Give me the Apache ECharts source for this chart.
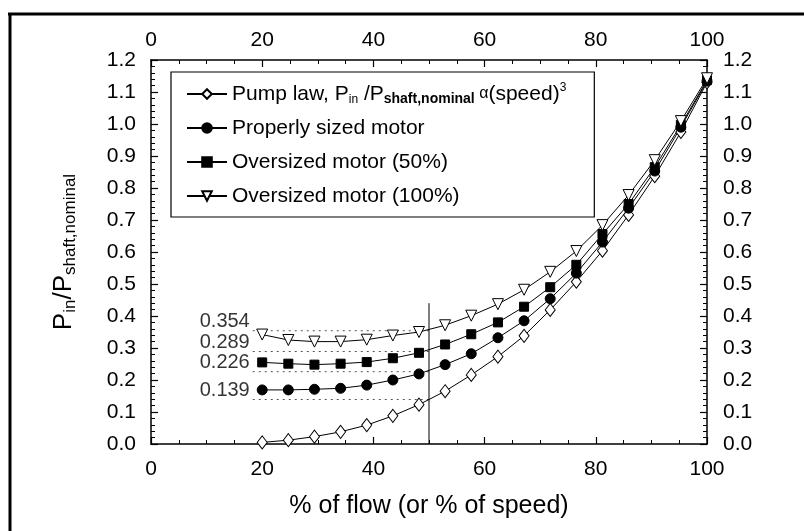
<!DOCTYPE html>
<html><head><meta charset="utf-8">
<script src="https://cdn.jsdelivr.net/npm/echarts@6/dist/echarts.min.js"></script>
<style>html,body{margin:0;padding:0;background:#fff}#c{width:804px;height:531px}</style>
</head><body><div id="c"></div>
<script>
// ---- data ----
const speed = [20, 24.7, 29.4, 34.1, 38.8, 43.5, 48.2, 52.9, 57.6, 62.4, 67.1, 71.8, 76.5, 81.2, 85.9, 90.6, 95.3, 100];
const pumpLaw = [0.005, 0.012, 0.023, 0.038, 0.059, 0.088, 0.123, 0.165, 0.216, 0.273, 0.338, 0.419, 0.507, 0.604, 0.716, 0.837, 0.975, 1.130];
const properMotor = [0.169, 0.169, 0.171, 0.174, 0.184, 0.200, 0.219, 0.248, 0.282, 0.332, 0.385, 0.454, 0.534, 0.631, 0.737, 0.853, 0.990, 1.134];
const oversized50 = [0.255, 0.251, 0.248, 0.251, 0.256, 0.268, 0.285, 0.311, 0.343, 0.380, 0.429, 0.490, 0.560, 0.656, 0.750, 0.865, 0.997, 1.137];
const oversized100 = [0.342, 0.325, 0.320, 0.320, 0.326, 0.339, 0.350, 0.371, 0.401, 0.437, 0.482, 0.538, 0.603, 0.684, 0.778, 0.887, 1.009, 1.143];
const refValues = [0.354, 0.289, 0.226, 0.139];
const refStartX = 18.3;
const refEndX = 50;
const halfSpeedLine = [[50, 0], [50, 0.44]];
const seriesNames = ['Pump law', 'Properly sized motor', 'Oversized motor (50%)', 'Oversized motor (100%)'];

const FONT = 'Liberation Sans';
const pairs = ys => speed.map((x, i) => [x, ys[i]]);
const chart = echarts.init(document.getElementById('c'), null, {renderer: 'canvas'});

const axisCommon = {
  type: 'value', min: 0,
  axisLine: {show: true, onZero: false, lineStyle: {color: '#000', width: 1.5}},
  axisTick: {show: true, inside: true, length: 7, lineStyle: {color: '#000', width: 1.2}},
  minorTick: {show: true, length: 4, lineStyle: {color: '#000', width: 1}},
  splitLine: {show: false},
  axisLabel: {color: '#000', fontFamily: FONT, fontSize: 21}
};

const xAxisBase = Object.assign({}, axisCommon, {max: 100, interval: 20, minorTick: Object.assign({}, axisCommon.minorTick, {splitNumber: 4})});
const yAxisBase = Object.assign({}, axisCommon, {max: 1.2, interval: 0.1, minorTick: Object.assign({}, axisCommon.minorTick, {splitNumber: 5})});

const lineSeries = (name, ys, symbol, size, fill, extra) => Object.assign({
  name, type: 'line', data: pairs(ys), symbol, symbolSize: size, showAllSymbol: true,
  lineStyle: {color: '#000', width: 1}, itemStyle: {color: fill, borderColor: '#000', borderWidth: 1},
  emphasis: {disabled: true}, z: 5
}, extra || {});

const series = [
  lineSeries(seriesNames[0], pumpLaw, 'diamond', [10, 13], '#fff'),
  lineSeries(seriesNames[1], properMotor, 'circle', 10, '#000'),
  lineSeries(seriesNames[2], oversized50, 'rect', 9, '#000'),
  lineSeries(seriesNames[3], oversized100, 'triangle', 11, '#fff', {symbolRotate: 180})
];

refValues.forEach(v => {
  series.push({
    type: 'line', data: [[refStartX, v], [refEndX, v]], symbol: 'none',
    lineStyle: {color: '#555', width: 1, type: [2, 4]}, silent: true, z: 2
  });
});
series.push({
  type: 'scatter', data: refValues.map(v => [refStartX, v]), symbolSize: 2,
  itemStyle: {color: 'rgba(0,0,0,0)'}, silent: true, z: 6,
  label: {show: true, position: 'left', distance: 2, offset: [0, -9], color: '#000',
    fontFamily: FONT, fontSize: 20, formatter: p => p.value[1].toFixed(3)}
});
series.push({
  type: 'line', data: halfSpeedLine, symbol: 'none', silent: true,
  lineStyle: {color: '#000', width: 1}, z: 3
});

const rich = {
  t: {fontFamily: FONT, fontSize: 21, color: '#000', lineHeight: 24},
  s: {fontFamily: FONT, fontSize: 12, color: '#000', verticalAlign: 'bottom', lineHeight: 24},
  sb: {fontFamily: FONT, fontSize: 14, fontWeight: 'bold', color: '#000', verticalAlign: 'bottom', lineHeight: 24},
  a: {fontFamily: FONT, fontSize: 16, color: '#000', lineHeight: 24},
  sup: {fontFamily: FONT, fontSize: 12, color: '#000', verticalAlign: 'top', lineHeight: 24}
};

chart.setOption({
  animation: false,
  backgroundColor: '#fff',
  grid: {left: 151, right: 97, top: 60, bottom: 87, containLabel: false},
  xAxis: [
    Object.assign({}, xAxisBase, {position: 'bottom',
      axisLabel: Object.assign({}, axisCommon.axisLabel, {margin: 15}),
      name: '% of flow (or % of speed)', nameLocation: 'middle', nameGap: 50,
      nameTextStyle: {color: '#000', fontFamily: FONT, fontSize: 25}}),
    Object.assign({}, xAxisBase, {position: 'top',
      axisLabel: Object.assign({}, axisCommon.axisLabel, {margin: 9})})
  ],
  yAxis: [
    Object.assign({}, yAxisBase, {position: 'left',
      axisLabel: Object.assign({}, axisCommon.axisLabel, {margin: 15, formatter: v => v.toFixed(1)}),
      name: '{p|P}{q|in}{p|/P}{q|shaft,nominal}', nameLocation: 'middle', nameGap: 72, nameRotate: 90,
      nameTextStyle: {rich: {
        p: {fontFamily: FONT, fontSize: 26, color: '#000', lineHeight: 30},
        q: {fontFamily: FONT, fontSize: 17, color: '#000', verticalAlign: 'bottom', lineHeight: 30}
      }}}),
    Object.assign({}, yAxisBase, {position: 'right',
      axisLabel: Object.assign({}, axisCommon.axisLabel, {margin: 16, formatter: v => v.toFixed(1)})})
  ],
  legend: {
    data: seriesNames, orient: 'vertical', left: 171, top: 72,
    padding: [10, 28, 9, 15], itemGap: 10, itemWidth: 40, itemHeight: 12,
    borderColor: '#000', borderWidth: 1.2, backgroundColor: '#fff',
    selectedMode: false,
    textStyle: {fontFamily: FONT, fontSize: 21, color: '#000', lineHeight: 24, rich},
    formatter: name => name === seriesNames[0]
      ? '{t|Pump law, P}{s|in}{t| /P}{sb|shaft,nominal}{a| α}{t|(speed)}{sup|3}'
      : '{t|' + name + '}'
  },
  graphic: [
    {type: 'line', shape: {x1: 8, y1: 14, x2: 804, y2: 14}, style: {stroke: '#000', lineWidth: 3}, silent: true},
    {type: 'line', shape: {x1: 10, y1: 13, x2: 10, y2: 531}, style: {stroke: '#000', lineWidth: 3}, silent: true}
  ],
  series
});
</script></body></html>
